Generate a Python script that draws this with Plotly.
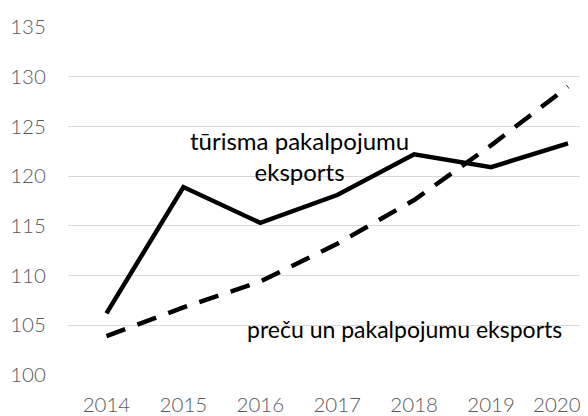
import plotly.graph_objects as go

years = ["2014", "2015", "2016", "2017", "2018", "2019", "2020"]
tourism = [106.2, 118.9, 115.3, 118.1, 122.2, 120.9, 123.3]
goods_services = [103.9, 106.8, 109.4, 113.2, 117.6, 123.1, 129.0]
y_ticks = [100, 105, 110, 115, 120, 125, 130, 135]

x_idx = list(range(len(years)))
# pad the last label so it stays inside the right edge (as in the original)
tick_text = years[:-1] + [years[-1] + "\u00a0\u00a0\u00a0\u00a0"]

fig = go.Figure()
fig.add_trace(go.Scatter(x=x_idx, y=goods_services, mode="lines",
                         line=dict(color="black", width=4.5, dash="20px,13px"),
                         showlegend=False))
fig.add_trace(go.Scatter(x=x_idx, y=tourism, mode="lines",
                         line=dict(color="black", width=4.5),
                         showlegend=False))

fig.add_annotation(x=2.51, y=122.0, xref="x", yref="y",
                   text="tūrisma pakalpojumu<br>eksports", showarrow=False,
                   font=dict(family="Lato", size=24, color="black"), align="center")
fig.add_annotation(x=3.87, y=104.6, xref="x", yref="y",
                   text="preču un pakalpojumu eksports", showarrow=False,
                   font=dict(family="Lato", size=23, color="black"), align="center")

tick_font = dict(family="Lato", size=20.5, color="#595959", weight=300)

# page body has an 8px margin, so the figure is sized/positioned to compensate
fig.update_layout(
    width=580, height=408,
    margin=dict(l=59.5, r=0, t=19, b=41, autoexpand=False),
    paper_bgcolor="white", plot_bgcolor="white",
    font=dict(family="Lato", color="#595959", size=20.5),
    xaxis=dict(range=[-0.5, 6.26], tickmode="array", tickvals=x_idx,
               ticktext=tick_text, showgrid=False, zeroline=False, showline=False,
               ticks="outside", ticklen=11, tickcolor="rgba(0,0,0,0)",
               ticklabeloverflow="allow", tickfont=tick_font),
    yaxis=dict(range=[100, 135], tickvals=y_ticks, showgrid=True, gridcolor="#d9d9d9",
               gridwidth=1.3, zeroline=False, showline=False,
               ticks="outside", ticklen=17, tickcolor="rgba(0,0,0,0)",
               tickfont=tick_font),
)

fig.write_html("out.html")
